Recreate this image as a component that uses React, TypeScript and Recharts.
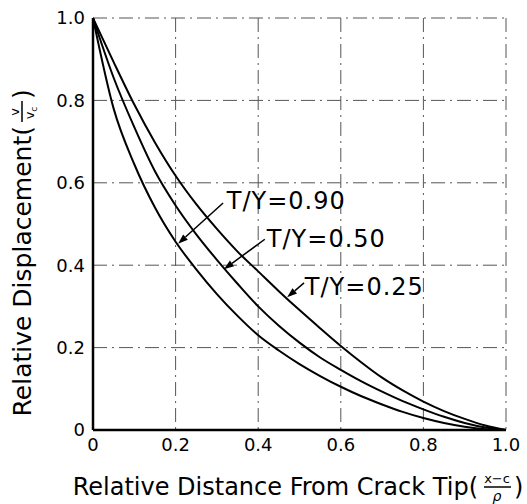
import React from 'react';
import { LineChart, Line, XAxis, YAxis, CartesianGrid, ReferenceLine, ReferenceDot } from 'recharts';

// relative distance from crack tip, (x-c)/rho
const distance = [
  0, 0.05, 0.1, 0.15, 0.2, 0.25, 0.3, 0.35, 0.4, 0.45, 0.5,
  0.55, 0.6, 0.65, 0.7, 0.75, 0.8, 0.85, 0.9, 0.95, 1.0,
];
// relative displacement v/vc for each T/Y
const ratio090 = [
  1, 0.78, 0.645, 0.54, 0.457, 0.39, 0.33, 0.277, 0.23, 0.193, 0.16,
  0.131, 0.105, 0.082, 0.062, 0.044, 0.029, 0.017, 0.008, 0.002, 0,
];
const ratio050 = [
  1, 0.855, 0.735, 0.628, 0.545, 0.475, 0.413, 0.355, 0.3, 0.253, 0.212,
  0.176, 0.146, 0.118, 0.093, 0.07, 0.05, 0.032, 0.017, 0.006, 0,
];
const ratio025 = [
  1, 0.893, 0.79, 0.698, 0.617, 0.548, 0.488, 0.433, 0.385, 0.337, 0.291,
  0.247, 0.204, 0.164, 0.127, 0.096, 0.069, 0.046, 0.027, 0.011, 0,
];

const axisTicks = [0, 0.2, 0.4, 0.6, 0.8, 1.0];

const curveLabels = ['T/Y=0.90', 'T/Y=0.50', 'T/Y=0.25'];
const labelAt = [
  [0.324, 0.558],
  [0.421, 0.467],
  [0.513, 0.35],
];
const arrowFrom = [
  [0.315, 0.551],
  [0.416, 0.463],
  [0.511, 0.357],
];
const arrowTo = [
  [0.206, 0.452],
  [0.317, 0.39],
  [0.47, 0.322],
];

const data = distance.map((d, i) => ({
  d,
  t090: ratio090[i],
  t050: ratio050[i],
  t025: ratio025[i],
}));

const FONT = '"DejaVu Sans", Verdana, sans-serif';

const fmt = (v: number) => (v === 0 ? '0' : v.toFixed(1));

const Arrow = (p: any) => {
  const { x1, y1, x2, y2 } = p;
  const a = Math.atan2(y2 - y1, x2 - x1);
  const len = 10;
  const w = 3.5;
  const bx = x2 - len * Math.cos(a);
  const by = y2 - len * Math.sin(a);
  const pts = `${x2},${y2} ${bx - w * Math.sin(a)},${by + w * Math.cos(a)} ${bx + w * Math.sin(a)},${by - w * Math.cos(a)}`;
  return (
    <g>
      <line x1={x1} y1={y1} x2={bx} y2={by} stroke="#000" strokeWidth={1.5} />
      <polygon points={pts} fill="#000" />
    </g>
  );
};

const XTitle = () => (
  <g fontFamily={FONT} fill="#000">
    <text x={478} y={495} fontSize={24} textAnchor="end">Relative Distance From Crack Tip(</text>
    <text x={497} y={483} fontSize={13} textAnchor="middle">x−c</text>
    <line x1={484} y1={487} x2={511} y2={487} stroke="#000" strokeWidth={1.5} />
    <text x={497} y={501} fontSize={14} textAnchor="middle" fontStyle="italic">ρ</text>
    <text x={514} y={495} fontSize={24}>)</text>
  </g>
);

const YTitle = () => (
  <g fontFamily={FONT} fill="#000" transform="translate(22,255) rotate(-90)">
    <text x={129} y={9} fontSize={25} textAnchor="end">Relative Displacement(</text>
    <text x={143} y={-3} fontSize={13} textAnchor="middle">v</text>
    <line x1={133} y1={0} x2={154} y2={0} stroke="#000" strokeWidth={1.5} />
    <text x={142} y={12} fontSize={13} textAnchor="middle">
      v<tspan fontSize={9} dy={3}>c</tspan>
    </text>
    <text x={156} y={9} fontSize={25}>)</text>
  </g>
);

export default function App() {
  return (
    <div style={{ position: 'absolute', left: 0, top: 0, width: 527, height: 504, background: '#fff' }}>
      <LineChart width={527} height={504} data={data} margin={{ top: 18, right: 21, bottom: 0, left: 0 }}>
        <CartesianGrid stroke="#555" strokeWidth={1} strokeDasharray="14 5 2 5" />
        <XAxis
          dataKey="d"
          type="number"
          domain={[0, 1]}
          ticks={axisTicks}
          tickFormatter={fmt}
          height={74}
          axisLine={{ stroke: '#000', strokeWidth: 2.5 }}
          tickLine={false}
          tick={{ fontSize: 18, fill: '#000', fontFamily: FONT }}
          label={<XTitle />}
        />
        <YAxis
          type="number"
          domain={[0, 1]}
          ticks={axisTicks}
          tickFormatter={fmt}
          width={93}
          axisLine={{ stroke: '#000', strokeWidth: 2.5 }}
          tickLine={false}
          tick={{ fontSize: 18, fill: '#000', fontFamily: FONT }}
          label={<YTitle />}
        />
        <Line type="monotone" dataKey="t090" stroke="#000" strokeWidth={2} dot={false} isAnimationActive={false} />
        <Line type="monotone" dataKey="t050" stroke="#000" strokeWidth={2} dot={false} isAnimationActive={false} />
        <Line type="monotone" dataKey="t025" stroke="#000" strokeWidth={2} dot={false} isAnimationActive={false} />
        {curveLabels.map((t, i) => (
          <ReferenceLine
            key={'a' + t}
            segment={[
              { x: arrowFrom[i][0], y: arrowFrom[i][1] },
              { x: arrowTo[i][0], y: arrowTo[i][1] },
            ]}
            shape={Arrow}
          />
        ))}
        {curveLabels.map((t, i) => (
          <ReferenceDot
            key={'l' + t}
            x={labelAt[i][0]}
            y={labelAt[i][1]}
            r={0}
            shape={(p: any) => (
              <text x={p.cx} y={p.cy + 9} fontSize={24} letterSpacing={1} fontFamily={FONT} fill="#000">
                {t}
              </text>
            )}
          />
        ))}
      </LineChart>
    </div>
  );
}
